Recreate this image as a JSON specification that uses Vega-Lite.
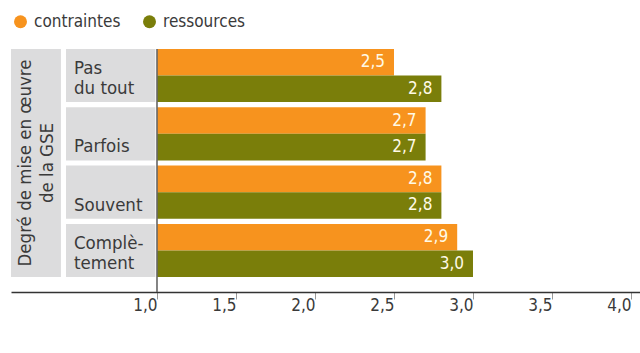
{
  "$schema": "https://vega.github.io/schema/vega-lite/v6.json",
  "width": 629,
  "height": 243,
  "autosize": {"type": "none"},
  "padding": {"left": 11, "top": 49, "right": 0, "bottom": 61},
  "background": "white",
  "datasets": {
    "bars": [
      {"cat": "Pas du tout", "serie": "contraintes", "value": 2.5},
      {"cat": "Pas du tout", "serie": "ressources", "value": 2.8},
      {"cat": "Parfois", "serie": "contraintes", "value": 2.7},
      {"cat": "Parfois", "serie": "ressources", "value": 2.7},
      {"cat": "Souvent", "serie": "contraintes", "value": 2.8},
      {"cat": "Souvent", "serie": "ressources", "value": 2.8},
      {"cat": "Complètement", "serie": "contraintes", "value": 2.9},
      {"cat": "Complètement", "serie": "ressources", "value": 3.0}
    ],
    "cats": [
      {"cat": "Pas du tout", "l1": "Pas", "l2": "du tout"},
      {"cat": "Parfois", "l1": "", "l2": "Parfois"},
      {"cat": "Souvent", "l1": "", "l2": "Souvent"},
      {"cat": "Complètement", "l1": "Complè-", "l2": "tement"}
    ],
    "titre": [
      {"t": "GSE", "titre": "Degré de mise en œuvre\nde la GSE"}
    ]
  },
  "resolve": {"scale": {"y": "independent"}},
  "layer": [
    {
      "data": {"name": "titre"},
      "layer": [
        {
          "mark": {"type": "rect", "color": "#DCDCDD"},
          "encoding": {
            "x": {"datum": 0.076, "type": "quantitative", "scale": {"domain": [0.076, 4.057], "nice": false, "zero": false}},
            "x2": {"datum": 0.392},
            "y": {"field": "t", "type": "nominal", "axis": null, "scale": {"paddingInner": 0, "paddingOuter": 0.0329, "align": 0}}
          }
        },
        {
          "mark": {"type": "text", "angle": 270, "align": "center", "baseline": "alphabetic", "lineBreak": "\n", "lineHeight": 22, "fontSize": 18.5, "color": "#3a3a3a"},
          "encoding": {
            "x": {"datum": 0.2025, "type": "quantitative"},
            "y": {"field": "t", "type": "nominal", "axis": null, "scale": {"paddingInner": 0, "paddingOuter": 0.0329, "align": 0}},
            "text": {"field": "titre"}
          }
        }
      ]
    },
    {
      "layer": [
        {
          "data": {"name": "cats"},
          "mark": {"type": "rect", "color": "#DCDCDD"},
          "encoding": {
            "x": {"datum": 0.424, "type": "quantitative"},
            "x2": {"datum": 0.99},
            "y": {"field": "cat", "type": "nominal", "axis": null,
                  "scale": {"domain": ["Pas du tout", "Parfois", "Souvent", "Complètement"], "paddingInner": 0.089, "paddingOuter": 0.1286, "align": 0}}
          }
        },
        {
          "data": {"name": "cats"},
          "mark": {"type": "text", "align": "left", "baseline": "alphabetic", "dx": 8, "dy": -8, "fontSize": 18.5, "color": "#3a3a3a"},
          "encoding": {
            "x": {"datum": 0.424, "type": "quantitative"},
            "y": {"field": "cat", "type": "nominal", "axis": null, "bandPosition": 1,
                  "scale": {"domain": ["Pas du tout", "Parfois", "Souvent", "Complètement"], "paddingInner": 0.089, "paddingOuter": 0.1286, "align": 0}},
            "text": {"field": "l2"}
          }
        },
        {
          "data": {"name": "cats"},
          "mark": {"type": "text", "align": "left", "baseline": "alphabetic", "dx": 8, "dy": -28.5, "fontSize": 18.5, "color": "#3a3a3a"},
          "encoding": {
            "x": {"datum": 0.424, "type": "quantitative"},
            "y": {"field": "cat", "type": "nominal", "axis": null, "bandPosition": 1,
                  "scale": {"domain": ["Pas du tout", "Parfois", "Souvent", "Complètement"], "paddingInner": 0.089, "paddingOuter": 0.1286, "align": 0}},
            "text": {"field": "l1"}
          }
        },
        {
          "data": {"name": "bars"},
          "mark": {"type": "bar"},
          "encoding": {
            "x": {"field": "value", "type": "quantitative",
                  "axis": {"title": null, "values": [1, 1.5, 2, 2.5, 3, 3.5, 4], "format": ".1f"}},
            "x2": {"datum": 1},
            "y": {"field": "cat", "type": "nominal", "axis": null,
                  "scale": {"domain": ["Pas du tout", "Parfois", "Souvent", "Complètement"], "paddingInner": 0.089, "paddingOuter": 0.1286, "align": 0}},
            "yOffset": {"field": "serie", "type": "nominal", "scale": {"domain": ["contraintes", "ressources"], "paddingInner": 0, "paddingOuter": 0}},
            "color": {"field": "serie", "type": "nominal",
                      "scale": {"domain": ["contraintes", "ressources"], "range": ["#F7931E", "#7A7E0A"]},
                      "legend": {"title": null, "orient": "none", "legendX": 1, "legendY": -36, "direction": "horizontal",
                                 "symbolType": "circle", "symbolSize": 169, "symbolStrokeWidth": 0, "symbolOpacity": 1,
                                 "labelFontSize": 17, "labelColor": "#3a3a3a", "columnPadding": 20, "labelOffset": 5, "padding": 0}}
          }
        },
        {
          "data": {"name": "bars"},
          "mark": {"type": "text", "align": "right", "baseline": "middle", "dx": -9, "fontSize": 17, "color": "#FFFAE6"},
          "encoding": {
            "x": {"field": "value", "type": "quantitative"},
            "y": {"field": "cat", "type": "nominal", "axis": null,
                  "scale": {"domain": ["Pas du tout", "Parfois", "Souvent", "Complètement"], "paddingInner": 0.089, "paddingOuter": 0.1286, "align": 0}},
            "yOffset": {"field": "serie", "type": "nominal", "scale": {"domain": ["contraintes", "ressources"], "paddingInner": 0, "paddingOuter": 0}},
            "text": {"field": "value", "type": "quantitative", "format": ".1f"}
          }
        },
        {
          "data": {"values": [{}]},
          "mark": {"type": "rule", "color": "#666666", "strokeWidth": 1.6},
          "encoding": {
            "x": {"datum": 1, "type": "quantitative"}
          }
        }
      ]
    }
  ],
  "config": {
    "font": "DejaVu Sans Condensed, Liberation Sans Narrow, Roboto, sans-serif",
    "locale": {"number": {"decimal": ",", "thousands": " ", "grouping": [3], "currency": ["", " €"]}},
    "view": {"stroke": null},
    "axisX": {
      "domainColor": "#333333", "domainWidth": 1.3,
      "tickColor": "#999999", "tickSize": 7, "tickWidth": 1,
      "labelFontSize": 17, "labelColor": "#3a3a3a", "labelAlign": "right", "labelDx": -5,
      "labelBaseline": "top", "labelPadding": -2, "grid": false, "labelFlush": false, "labelOverlap": false
    }
  }
}
